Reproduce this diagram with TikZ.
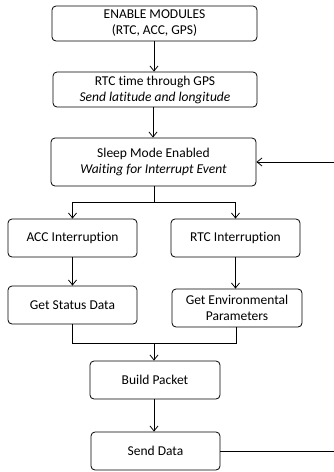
\documentclass[tikz,border=0pt]{standalone}
\usepackage{fontspec}
\setmainfont[Ligatures=NoCommon]{Carlito}
\usetikzlibrary{arrows.meta}
\begin{document}
\begin{tikzpicture}[x=1pt,y=-1pt,
  box/.style={draw,line width=0.8pt,rounded corners=4pt,align=center,font=\fontsize{13.5}{16}\selectfont,inner sep=0pt},
  conn/.style={line width=0.8pt},
  arr/.style={conn,-{Straight Barb[length=5pt,width=8pt,line width=0.8pt]}}]
\useasboundingbox (0,0) rectangle (334,472);
\node[box,minimum width=205pt,minimum height=35pt] (enable) at (154.5,23.5) {ENABLE MODULES\\(RTC, ACC, GPS)};
\node[box,minimum width=204pt,minimum height=35pt] (rtcgps) at (155,89.5) {RTC time through GPS\\\textit{Send latitude and longitude}};
\node[box,minimum width=205pt,minimum height=48pt] (sleep) at (153.5,162) {Sleep Mode Enabled\\\textit{Waiting for Interrupt Event}};
\node[box,minimum width=129pt,minimum height=38pt] (acc) at (72.5,238) {ACC Interruption};
\node[box,minimum width=129pt,minimum height=38pt] (rtc) at (235.5,238) {RTC Interruption};
\node[box,minimum width=129pt,minimum height=38pt] (status) at (72.5,305) {Get Status Data};
\node[box,minimum width=130pt,minimum height=38pt] (env) at (237,308) {Get Environmental\\Parameters};
\node[box,minimum width=130pt,minimum height=38pt] (build) at (155,380) {Build Packet};
\node[box,minimum width=129pt,minimum height=38pt] (send) at (155.5,451) {Send Data};
\coordinate (split) at (154,202);
\coordinate (merge) at (154,343);
\coordinate (far) at (336,0);
\draw[arr] (enable.south -| 154,0) -- (rtcgps.north -| 154,0);
\draw[arr] (rtcgps.south -| 153,0) -- (sleep.north -| 153,0);
\draw[conn] (sleep.south -| split) -- (split);
\draw[arr] (split) -| (acc.north);
\draw[arr] (split) -| (rtc.north);
\draw[arr] (acc) -- (status);
\draw[arr] (rtc.south) -- (env.north -| rtc.south);
\draw[conn] (status.south) |- (merge);
\draw[conn] (env.south -| 236,0) |- (merge);
\draw[arr] (merge) -- (build.north -| merge);
\draw[arr] (build.south -| 154,0) -- (send.north -| 154,0);
\draw[arr] (send.east) -- (send.east -| far) |- (sleep.east);
\end{tikzpicture}
\end{document}
